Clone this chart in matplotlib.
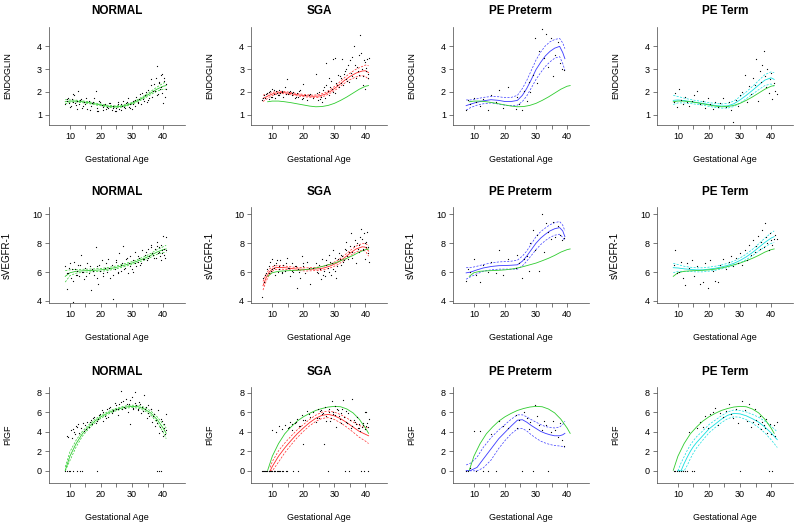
import numpy as np
import matplotlib.pyplot as plt

plt.rcParams['font.family'] = ['Liberation Sans', 'DejaVu Sans']

# ---- raw points (gestational age + the three analytes) ----
NORMAL_GA = [8.5, 9.0, 9.4, 9.8, 10.2, 10.6, 11.0, 11.3, 11.8, 12.2,
             12.6, 13.0, 13.5, 14.0, 14.4, 15.0, 15.6, 16.1, 16.7, 17.2,
             17.8, 18.3, 18.8, 19.2, 19.7, 20.2, 20.8, 21.3, 21.9, 22.4,
             23.0, 23.5, 24.0, 24.5, 25.0, 25.4, 25.9, 26.3, 26.8, 27.2,
             27.7, 28.1, 28.6, 29.0, 29.5, 29.9, 30.4, 30.9, 31.3, 31.8,
             32.3, 32.8, 33.2, 33.7, 34.2, 34.7, 35.1, 35.6, 36.0, 36.5,
             37.0, 37.4, 37.9, 38.3, 38.8, 39.2, 39.6, 40.0, 40.4, 40.8,
             9.2, 10.0, 10.9, 11.6, 12.4, 13.3, 14.2, 15.3, 16.4, 17.5,
             18.6, 19.5, 20.5, 21.6, 22.7, 23.8, 24.7, 25.6, 26.6, 27.5,
             28.4, 29.3, 30.2, 31.1, 32.0, 32.6, 33.5, 34.4, 35.3, 36.2,
             36.8, 37.6, 38.1, 38.6, 39.0, 39.4, 39.8, 40.2, 40.6, 41.0]
NORMAL_ENDO = [1.45, 1.62, 1.75, 1.50, 1.38, 1.68, 1.55, 1.85, 1.42, 1.60,
               2.05, 1.48, 1.70, 1.30, 1.58, 1.45, 1.25, 1.62, 1.38, 1.50,
               1.72, 2.05, 1.30, 1.15, 1.55, 1.42, 1.20, 1.48, 1.35, 1.28,
               1.52, 1.22, 1.40, 1.18, 1.30, 1.55, 1.25, 1.45, 1.38, 1.62,
               1.28, 1.50, 1.72, 1.35, 1.45, 1.25, 1.62, 1.40, 1.80, 1.55,
               1.70, 1.48, 1.95, 1.62, 1.85, 1.55, 2.10, 1.75, 2.55, 1.80,
               2.35, 2.05, 3.15, 1.90, 2.45, 2.20, 2.80, 1.50, 2.60, 2.15,
               1.70, 1.35, 1.90, 1.50, 1.25, 1.65, 1.40, 1.75, 1.20, 1.55,
               1.15, 1.60, 1.35, 1.25, 1.50, 1.30, 1.15, 1.45, 1.20, 1.35,
               1.55, 1.30, 1.45, 1.65, 1.50, 1.90, 1.70, 2.00, 1.65, 2.30,
               2.05, 2.60, 1.85, 2.40, 2.15, 2.75, 1.95, 2.50, 1.80, 2.35]
NORMAL_SVEGF = [6.40, 4.80, 5.90, 6.30, 5.60, 6.20, 3.95, 6.70, 5.80, 6.10,
                6.50, 5.70, 7.20, 6.00, 5.50, 6.30, 6.60, 5.90, 4.75, 6.20,
                5.80, 7.70, 6.40, 5.20, 6.10, 6.80, 5.70, 6.30, 6.00, 6.90,
                5.60, 6.50, 4.10, 6.20, 6.70, 5.90, 7.30, 6.10, 6.60, 7.80,
                6.30, 6.90, 5.90, 6.60, 7.10, 6.20, 6.80, 7.40, 6.40, 6.70,
                7.00, 6.60, 7.50, 6.90, 7.20, 6.80, 7.60, 7.10, 7.90, 7.30,
                7.00, 7.60, 8.10, 7.30, 7.70, 6.80, 7.50, 8.50, 7.20, 8.40,
                5.90, 6.60, 5.40, 6.20, 5.80, 6.50, 6.00, 5.70, 6.40, 6.10,
                5.60, 6.50, 5.90, 6.60, 6.30, 5.80, 6.80, 6.00, 6.50, 6.20,
                7.00, 6.40, 6.00, 6.60, 7.10, 6.50, 6.90, 7.40, 7.00, 7.70,
                7.20, 7.00, 7.80, 7.40, 7.10, 7.90, 7.30, 7.60, 7.00, 7.50]
NORMAL_PLGF = [0.0, 0.0, 3.50, 0.0, 4.20, 3.40, 0.0, 4.00, 4.60, 0.0,
               4.80, 3.90, 4.40, 0.0, 4.10, 4.70, 5.00, 4.50, 5.20, 4.80,
               5.50, 4.90, 0.0, 5.30, 5.80, 6.20, 5.10, 5.60, 6.30, 5.50,
               6.60, 5.90, 6.20, 7.00, 6.40, 5.70, 6.90, 8.20, 6.30, 7.20,
               6.50, 7.40, 6.00, 6.90, 4.80, 7.60, 6.40, 8.10, 6.80, 6.20,
               7.10, 5.90, 6.60, 7.80, 6.30, 5.40, 6.80, 5.60, 6.30, 5.00,
               5.80, 4.60, 0.0, 6.20, 3.90, 0.0, 5.10, 3.60, 4.40, 5.80,
               3.60, 0.0, 4.30, 3.80, 4.50, 0.0, 4.90, 4.30, 5.00, 5.40,
               5.10, 5.70, 6.00, 5.40, 6.50, 6.10, 6.80, 6.30, 7.10, 6.60,
               6.90, 7.30, 6.50, 7.00, 6.40, 6.90, 6.10, 6.60, 5.90, 6.40,
               5.60, 5.20, 4.90, 0.0, 4.50, 5.30, 4.10, 4.80, 3.80, 4.20]

SGA_GA = [6.6, 7.2, 7.8, 8.3, 8.8, 9.2, 9.6, 10.0, 10.4, 10.8,
          11.2, 11.7, 12.1, 12.6, 13.0, 13.5, 14.0, 14.6, 15.1, 15.7,
          16.2, 16.8, 17.3, 17.9, 18.4, 19.0, 19.5, 20.0, 20.6, 21.2,
          22.0, 23.1, 24.0, 24.6, 25.1, 25.6, 26.1, 26.5, 27.0, 27.4,
          27.9, 28.3, 28.8, 29.2, 29.7, 30.1, 30.6, 31.0, 31.5, 32.0,
          32.4, 32.9, 33.3, 33.8, 34.3, 34.8, 35.3, 35.8, 36.3, 36.8,
          37.3, 37.8, 38.2, 38.7, 39.1, 39.5, 39.9, 40.3, 40.7, 41.0,
          7.0, 8.0, 9.0, 9.8, 10.6, 11.4, 12.3, 13.2, 14.3, 15.4,
          16.5, 17.6, 18.7, 19.8, 21.8, 24.3, 25.3, 26.3, 27.2, 28.1,
          28.6, 29.5, 30.3, 30.8, 31.7, 32.2, 33.1, 33.6, 34.1, 35.0,
          35.6, 36.6, 37.5, 38.0, 38.9, 39.3, 39.7, 40.1, 40.5, 40.9]
SGA_ENDO = [1.65, 1.85, 1.75, 1.95, 1.70, 2.05, 1.80, 2.15, 1.90, 1.75,
            2.05, 1.85, 2.10, 1.95, 2.00, 1.80, 2.20, 2.55, 1.90, 2.05,
            1.85, 2.00, 1.75, 1.95, 1.80, 2.10, 1.70, 2.35, 1.85, 1.65,
            1.90, 1.75, 2.80, 1.65, 2.00, 1.80, 1.55, 2.20, 1.75, 3.25,
            2.05, 1.85, 2.50, 2.15, 3.45, 1.95, 2.40, 2.75, 2.20, 2.60,
            3.45, 2.30, 2.90, 2.55, 3.20, 2.45, 2.85, 3.55, 4.00, 2.60,
            3.10, 2.75, 4.50, 3.70, 2.30, 3.40, 2.15, 3.05, 2.60, 3.50,
            1.75, 1.90, 2.00, 1.80, 2.10, 1.95, 1.85, 2.05, 1.90, 2.00,
            1.95, 1.80, 2.05, 1.75, 1.85, 1.95, 1.70, 2.10, 2.30, 2.60,
            2.20, 2.00, 3.50, 2.30, 2.70, 2.40, 2.80, 3.00, 2.50, 3.40,
            2.70, 3.20, 2.90, 3.60, 3.00, 2.70, 3.30, 2.90, 3.45, 2.80]
SGA_SVEGF = [4.30, 5.30, 5.80, 6.20, 5.90, 6.70, 6.10, 6.90, 6.30, 5.80,
             6.60, 6.00, 6.40, 6.80, 5.90, 6.50, 6.10, 7.00, 6.30, 5.70,
             6.60, 6.00, 6.40, 4.90, 6.20, 5.60, 7.10, 6.40, 5.90, 6.70,
             5.20, 6.30, 6.60, 5.90, 6.50, 5.50, 6.90, 6.10, 5.70, 6.80,
             6.30, 7.20, 5.80, 6.60, 7.50, 6.10, 5.60, 6.90, 7.30, 6.50,
             7.10, 6.70, 7.60, 8.10, 6.90, 7.40, 8.70, 7.00, 7.80, 6.60,
             8.00, 7.40, 8.40, 9.00, 7.60, 8.70, 6.90, 8.10, 7.70, 6.70,
             5.60, 5.90, 6.40, 6.20, 6.50, 6.80, 6.20, 6.00, 6.60, 6.30,
             6.10, 6.40, 6.00, 6.60, 6.30, 6.00, 6.20, 5.80, 6.50, 6.00,
             6.70, 6.20, 7.00, 6.40, 6.90, 7.20, 6.80, 7.50, 7.10, 7.80,
             7.40, 8.20, 7.60, 7.90, 8.30, 7.50, 8.00, 7.70, 8.80, 7.30]
SGA_PLGF = [0.0, 0.0, 0.0, 0.0, 0.0, 0.0, 0.0, 4.20, 0.0, 0.0,
            4.00, 0.0, 4.60, 0.0, 4.30, 0.0, 4.70, 0.0, 4.40, 5.00,
            4.20, 0.0, 4.90, 5.30, 0.0, 4.60, 5.70, 2.80, 5.20, 6.10,
            5.50, 6.00, 5.00, 6.40, 5.40, 6.20, 5.80, 2.80, 6.60, 5.10,
            0.0, 6.00, 5.40, 7.20, 5.80, 6.70, 4.50, 6.20, 5.60, 4.90,
            6.30, 7.30, 0.0, 5.00, 5.90, 0.0, 4.40, 7.40, 5.20, 4.80,
            5.50, 4.40, 4.10, 0.0, 4.90, 0.0, 6.00, 4.60, 0.0, 5.30,
            0.0, 0.0, 0.0, 0.0, 0.0, 0.0, 0.0, 0.0, 0.0, 4.50,
            4.80, 5.00, 4.60, 5.20, 5.80, 5.40, 6.10, 5.90, 5.60, 6.30,
            5.10, 6.00, 5.70, 6.40, 5.30, 5.90, 5.50, 6.10, 4.90, 5.20,
            4.60, 5.00, 4.40, 4.80, 4.50, 4.70, 4.30, 6.00, 4.90, 4.50]

PEP_GA = [7.5, 8.0, 8.6, 10.0, 10.8, 12.0, 13.0, 14.5, 15.5, 17.0,
          18.0, 19.5, 21.0, 23.5, 24.0, 24.5, 25.5, 26.2, 27.0, 27.6,
          28.2, 29.0, 29.6, 30.3, 31.0, 31.8, 32.5, 33.3, 34.0, 34.7,
          35.5, 36.2, 37.0, 37.8, 38.5, 39.1]
PEP_ENDO = [1.20, 1.65, 1.45, 1.75, 1.55, 1.40, 1.70, 1.20, 1.85, 1.55,
            2.10, 1.30, 2.20, 1.25, 1.80, 1.45, 1.20, 2.05, 1.60, 2.45,
            2.00, 2.75, 4.35, 2.40, 3.80, 4.75, 3.50, 4.55, 3.10, 4.35,
            2.70, 3.60, 4.20, 3.25, 3.00, 2.95]
PEP_SVEGF = [5.40, 6.20, 6.00, 6.90, 5.80, 5.30, 6.50, 6.00, 6.70, 5.90,
             7.50, 5.80, 6.90, 6.30, 7.20, 6.60, 5.60, 6.90, 7.10, 6.10,
             8.00, 8.90, 7.50, 8.60, 6.10, 10.05, 7.40, 9.40, 8.80, 8.30,
             9.50, 8.40, 9.20, 8.60, 8.20, 8.35]
PEP_PLGF = [0.0, 0.0, 0.30, 4.10, 0.0, 4.10, 0.0, 0.0, 3.80, 0.0,
            5.10, 4.60, 4.40, 5.75, 4.40, 5.20, 0.0, 6.00, 5.40, 4.30,
            5.00, 0.0, 6.80, 5.60, 4.70, 4.20, 5.10, 4.70, 0.0, 4.00,
            5.10, 4.20, 3.50, 4.90, 3.20, 2.60]

PET_GA = [8.6, 9.2, 9.8, 10.3, 10.9, 11.5, 12.2, 12.9, 13.6, 14.4,
          15.3, 16.2, 17.1, 18.0, 18.8, 19.6, 20.4, 21.2, 22.0, 22.8,
          23.6, 24.5, 25.4, 26.3, 27.1, 27.9, 28.7, 29.4, 30.1, 30.8,
          31.5, 32.2, 32.9, 33.5, 34.1, 34.7, 35.3, 35.8, 36.3, 36.8,
          37.2, 37.6, 38.0, 38.4, 38.8, 39.2, 39.6, 40.0, 40.4, 40.8,
          41.3, 41.8]
PET_ENDO = [1.55, 1.95, 1.35, 2.15, 1.65, 1.45, 1.80, 1.55, 1.40, 1.60,
            1.85, 2.05, 1.45, 1.60, 1.30, 1.75, 1.45, 1.25, 1.55, 1.35,
            1.50, 1.75, 1.35, 1.55, 1.20, 0.70, 1.65, 1.40, 1.85, 2.00,
            2.75, 1.55, 2.25, 1.90, 2.60, 2.30, 3.45, 1.60, 2.90, 2.45,
            3.20, 3.80, 2.70, 2.20, 3.00, 1.95, 2.55, 2.85, 1.70, 2.40,
            2.05, 1.90]
PET_SVEGF = [6.50, 7.50, 5.90, 6.00, 6.70, 5.60, 5.10, 6.60, 6.30, 6.80,
             5.70, 6.40, 5.20, 5.30, 6.60, 4.90, 6.80, 6.10, 5.40, 5.30,
             6.50, 6.90, 6.20, 6.70, 7.10, 6.40, 7.00, 6.60, 7.30, 6.50,
             7.50, 6.80, 7.90, 7.20, 8.20, 7.40, 7.80, 8.50, 7.60, 8.10,
             8.90, 7.70, 9.40, 8.40, 8.00, 7.50, 8.70, 8.20, 7.90, 8.30,
             8.60, 8.30]
PET_PLGF = [0.0, 0.0, 0.0, 0.0, 0.0, 0.0, 0.0, 0.0, 4.00, 0.0,
            0.0, 4.40, 5.00, 4.50, 5.60, 4.40, 5.80, 6.00, 6.50, 4.70,
            5.90, 5.50, 6.10, 6.90, 5.80, 5.40, 6.30, 4.90, 0.0, 7.20,
            6.20, 5.10, 6.90, 4.50, 5.00, 6.40, 5.20, 4.80, 5.60, 4.30,
            5.00, 4.70, 4.40, 5.30, 3.90, 0.0, 4.80, 3.80, 0.0, 4.70,
            3.60, 5.00]

# ---- fitted curves (mean, lower, upper) ----
NORM_X = [8.5, 10, 12, 14, 16, 18, 20, 22, 24, 26, 28, 30, 32, 34, 36, 38, 40, 41]
NORM_ENDO_MID = [1.57, 1.60, 1.60, 1.57, 1.53, 1.48, 1.43, 1.38, 1.35, 1.36, 1.41, 1.50, 1.63, 1.78, 1.95, 2.12, 2.25, 2.28]
NORM_ENDO_LO = [1.48, 1.55, 1.56, 1.53, 1.49, 1.44, 1.39, 1.34, 1.31, 1.32, 1.37, 1.46, 1.58, 1.72, 1.88, 2.03, 2.12, 2.12]
NORM_ENDO_HI = [1.66, 1.65, 1.64, 1.61, 1.57, 1.52, 1.47, 1.42, 1.39, 1.40, 1.45, 1.54, 1.68, 1.84, 2.02, 2.21, 2.38, 2.44]
NORM_SVEGF_MID = [5.70, 5.95, 6.05, 6.08, 6.10, 6.12, 6.15, 6.20, 6.28, 6.38, 6.50, 6.62, 6.78, 6.95, 7.15, 7.38, 7.55, 7.60]
NORM_SVEGF_LO = [5.30, 5.75, 5.92, 5.97, 6.00, 6.02, 6.05, 6.10, 6.18, 6.28, 6.40, 6.52, 6.67, 6.83, 7.02, 7.22, 7.35, 7.35]
NORM_SVEGF_HI = [6.10, 6.15, 6.18, 6.19, 6.20, 6.22, 6.25, 6.30, 6.38, 6.48, 6.60, 6.72, 6.89, 7.07, 7.28, 7.54, 7.75, 7.85]
NORM_PLGF_MID = [0.05, 1.50, 2.80, 3.80, 4.50, 5.10, 5.55, 5.90, 6.20, 6.40, 6.55, 6.62, 6.58, 6.35, 5.95, 5.30, 4.40, 3.85]
NORM_PLGF_LO = [0.00, 1.05, 2.45, 3.55, 4.30, 4.92, 5.40, 5.76, 6.07, 6.28, 6.43, 6.50, 6.44, 6.18, 5.74, 5.02, 4.00, 3.30]
NORM_PLGF_HI = [0.40, 1.95, 3.15, 4.05, 4.70, 5.28, 5.70, 6.04, 6.33, 6.52, 6.67, 6.74, 6.72, 6.52, 6.16, 5.58, 4.80, 4.40]

SGA_X = [7, 8, 9, 10, 11, 13, 15, 17, 19, 21, 23, 25, 27, 29, 31, 33, 35, 37, 39, 40, 41]
SGA_ENDO_MID = [1.72, 1.78, 1.85, 1.91, 1.95, 1.98, 1.95, 1.90, 1.86, 1.83, 1.81, 1.82, 1.90, 2.05, 2.25, 2.48, 2.68, 2.83, 2.92, 2.93, 2.85]
SGA_ENDO_LO = [1.58, 1.67, 1.77, 1.84, 1.89, 1.93, 1.90, 1.85, 1.81, 1.78, 1.76, 1.76, 1.83, 1.97, 2.15, 2.36, 2.54, 2.66, 2.72, 2.68, 2.55]
SGA_ENDO_HI = [1.86, 1.89, 1.93, 1.98, 2.01, 2.03, 2.00, 1.95, 1.91, 1.88, 1.86, 1.88, 1.97, 2.13, 2.35, 2.60, 2.82, 3.00, 3.12, 3.18, 3.15]
SGA_SVEGF_MID = [5.05, 5.60, 6.00, 6.20, 6.30, 6.32, 6.28, 6.22, 6.20, 6.18, 6.20, 6.22, 6.30, 6.45, 6.65, 6.95, 7.30, 7.60, 7.75, 7.72, 7.45]
SGA_SVEGF_LO = [4.75, 5.35, 5.80, 6.05, 6.17, 6.20, 6.17, 6.11, 6.09, 6.07, 6.09, 6.10, 6.17, 6.31, 6.50, 6.78, 7.12, 7.40, 7.52, 7.45, 7.10]
SGA_SVEGF_HI = [5.35, 5.85, 6.20, 6.35, 6.43, 6.44, 6.39, 6.33, 6.31, 6.29, 6.31, 6.34, 6.43, 6.59, 6.80, 7.12, 7.48, 7.80, 7.98, 7.99, 7.80]
SGA_PX = [9.3, 10, 12, 14, 16, 18, 20, 22, 24, 26, 28, 30, 32, 34, 36, 38, 40, 41]
SGA_PLGF_MID = [0.00, 0.45, 1.50, 2.35, 3.10, 3.80, 4.40, 4.95, 5.40, 5.70, 5.80, 5.65, 5.35, 4.95, 4.50, 4.05, 3.75, 3.60]
SGA_PLGF_LO = [0.00, 0.00, 0.90, 1.85, 2.65, 3.40, 4.05, 4.62, 5.08, 5.38, 5.46, 5.27, 4.93, 4.48, 3.98, 3.45, 3.05, 2.80]
SGA_PLGF_HI = [0.35, 0.95, 2.05, 2.85, 3.55, 4.20, 4.75, 5.28, 5.72, 6.02, 6.14, 6.03, 5.77, 5.42, 5.02, 4.65, 4.45, 4.40]

PEP_X = [7.5, 9, 11, 13, 15.5, 18, 20, 22, 24, 25.6, 27, 28.5, 30, 31.5, 33, 34.5, 36, 37.6, 38.6, 39.3]
PEP_ENDO_MID = [1.40, 1.47, 1.55, 1.61, 1.66, 1.63, 1.58, 1.58, 1.63, 1.85, 2.15, 2.55, 2.98, 3.30, 3.58, 3.78, 3.92, 4.00, 3.73, 3.46]
PEP_ENDO_LO = [1.20, 1.32, 1.42, 1.48, 1.52, 1.47, 1.42, 1.40, 1.42, 1.58, 1.82, 2.18, 2.55, 2.85, 3.12, 3.32, 3.48, 3.55, 3.25, 2.95]
PEP_ENDO_HI = [1.65, 1.65, 1.70, 1.76, 1.80, 1.79, 1.75, 1.76, 1.85, 2.15, 2.50, 2.95, 3.40, 3.75, 4.02, 4.20, 4.30, 4.35, 4.15, 3.90]
PEP_SVEGF_MID = [5.94, 6.00, 6.15, 6.28, 6.38, 6.44, 6.45, 6.47, 6.50, 6.75, 7.10, 7.55, 8.00, 8.35, 8.62, 8.85, 9.00, 9.08, 8.85, 8.45]
PEP_SVEGF_LO = [5.50, 5.68, 5.88, 6.05, 6.15, 6.20, 6.20, 6.20, 6.20, 6.42, 6.75, 7.15, 7.55, 7.90, 8.18, 8.40, 8.55, 8.62, 8.40, 8.15]
PEP_SVEGF_HI = [6.30, 6.30, 6.40, 6.52, 6.62, 6.70, 6.72, 6.75, 6.82, 7.10, 7.45, 7.95, 8.45, 8.80, 9.05, 9.28, 9.42, 9.50, 9.25, 8.85]
PEP_PLGF_MID = [0.00, 0.05, 0.35, 1.20, 2.25, 3.30, 3.95, 4.60, 5.20, 5.25, 5.00, 4.65, 4.35, 4.05, 3.85, 3.70, 3.60, 3.60, 3.70, 3.85]
PEP_PLGF_LO = [0.00, 0.00, 0.00, 0.30, 1.10, 2.30, 3.10, 3.80, 4.30, 4.35, 4.10, 3.70, 3.35, 3.05, 2.85, 2.70, 2.60, 2.55, 2.50, 2.40]
PEP_PLGF_HI = [0.60, 0.80, 1.40, 2.40, 3.40, 4.20, 4.75, 5.30, 5.75, 5.75, 5.55, 5.25, 5.00, 4.75, 4.55, 4.45, 4.40, 4.50, 4.75, 5.10]

PET_X = [8.5, 10, 12, 14, 16, 18, 20, 22, 24, 26, 28, 30, 32, 34, 36, 38, 40, 41]
PET_ENDO_MID = [1.63, 1.65, 1.62, 1.58, 1.54, 1.50, 1.45, 1.41, 1.38, 1.39, 1.48, 1.65, 1.85, 2.07, 2.30, 2.52, 2.62, 2.55]
PET_ENDO_LO = [1.45, 1.52, 1.52, 1.49, 1.46, 1.42, 1.37, 1.32, 1.29, 1.29, 1.36, 1.51, 1.70, 1.90, 2.10, 2.28, 2.35, 2.25]
PET_ENDO_HI = [1.85, 1.80, 1.73, 1.67, 1.62, 1.58, 1.53, 1.50, 1.47, 1.50, 1.60, 1.79, 2.00, 2.24, 2.50, 2.76, 2.88, 2.85]
PET_SVEGF_MID = [6.30, 6.28, 6.22, 6.18, 6.15, 6.15, 6.20, 6.26, 6.35, 6.46, 6.60, 6.80, 7.05, 7.35, 7.70, 8.05, 8.35, 8.45]
PET_SVEGF_LO = [5.95, 6.05, 6.05, 6.03, 6.01, 6.01, 6.06, 6.12, 6.21, 6.32, 6.45, 6.63, 6.86, 7.13, 7.45, 7.75, 7.98, 8.05]
PET_SVEGF_HI = [6.60, 6.52, 6.40, 6.33, 6.29, 6.29, 6.34, 6.40, 6.49, 6.60, 6.75, 6.97, 7.24, 7.57, 7.95, 8.35, 8.70, 8.85]
PET_PX = [10, 11, 12, 13, 14, 15, 16, 18, 20, 22, 24, 26, 28, 30, 32, 34, 36, 38, 40, 42]
PET_PLGF_MID = [0.00, 0.00, 0.75, 1.40, 2.00, 2.50, 2.90, 3.60, 4.30, 4.80, 5.30, 5.70, 5.90, 5.85, 5.65, 5.35, 5.00, 4.50, 3.90, 3.20]
PET_PLGF_LO = [0.00, 0.00, 0.00, 0.55, 1.25, 1.85, 2.35, 3.15, 3.90, 4.45, 4.95, 5.35, 5.55, 5.50, 5.25, 4.90, 4.45, 3.90, 3.20, 2.40]
PET_PLGF_HI = [0.00, 0.80, 1.45, 2.10, 2.65, 3.10, 3.50, 4.10, 4.75, 5.20, 5.65, 6.05, 6.25, 6.20, 6.05, 5.80, 5.50, 5.10, 4.60, 4.00]

groups = ['NORMAL', 'SGA', 'PE Preterm', 'PE Term']
group_color = ['#2ecc2e', '#ff2a2a', '#3a3aff', '#14e0e0']
analytes = ['ENDOGLIN', 'sVEGFR-1', 'PlGF']

points = {
    'NORMAL': (NORMAL_GA, [NORMAL_ENDO, NORMAL_SVEGF, NORMAL_PLGF]),
    'SGA': (SGA_GA, [SGA_ENDO, SGA_SVEGF, SGA_PLGF]),
    'PE Preterm': (PEP_GA, [PEP_ENDO, PEP_SVEGF, PEP_PLGF]),
    'PE Term': (PET_GA, [PET_ENDO, PET_SVEGF, PET_PLGF]),
}
curves = {
    'NORMAL': [(NORM_X, NORM_ENDO_MID, NORM_ENDO_LO, NORM_ENDO_HI),
               (NORM_X, NORM_SVEGF_MID, NORM_SVEGF_LO, NORM_SVEGF_HI),
               (NORM_X, NORM_PLGF_MID, NORM_PLGF_LO, NORM_PLGF_HI)],
    'SGA': [(SGA_X, SGA_ENDO_MID, SGA_ENDO_LO, SGA_ENDO_HI),
            (SGA_X, SGA_SVEGF_MID, SGA_SVEGF_LO, SGA_SVEGF_HI),
            (SGA_PX, SGA_PLGF_MID, SGA_PLGF_LO, SGA_PLGF_HI)],
    'PE Preterm': [(PEP_X, PEP_ENDO_MID, PEP_ENDO_LO, PEP_ENDO_HI),
                   (PEP_X, PEP_SVEGF_MID, PEP_SVEGF_LO, PEP_SVEGF_HI),
                   (PEP_X, PEP_PLGF_MID, PEP_PLGF_LO, PEP_PLGF_HI)],
    'PE Term': [(PET_X, PET_ENDO_MID, PET_ENDO_LO, PET_ENDO_HI),
                (PET_X, PET_SVEGF_MID, PET_SVEGF_LO, PET_SVEGF_HI),
                (PET_PX, PET_PLGF_MID, PET_PLGF_LO, PET_PLGF_HI)],
}

ylims = [(0.55, 4.85), (3.85, 10.5), (-1.25, 8.6)]
yticks = [[1, 2, 3, 4], [4, 6, 8, 10], [0, 2, 4, 6, 8]]
ylab_size = [6.5, 7, 6.5]

row_bottom = [0.7628, 0.425, 0.0835]
row_height = [0.186, 0.182, 0.182]
col_left = [0.061, 0.314, 0.566, 0.821]

fig = plt.figure(figsize=(8, 5.27), dpi=100)

for r, analyte in enumerate(analytes):
    for c, grp in enumerate(groups):
        ax = fig.add_axes([col_left[c], row_bottom[r], 0.17, row_height[r]])
        ga, vals = points[grp]
        ax.scatter(ga, vals[r], s=0.8, color='black', linewidths=0, zorder=3)

        x, mid, lo, hi = curves[grp][r]
        col = group_color[c]
        ax.plot(x, mid, color=col, lw=0.6)
        ax.plot(x, lo, color=col, lw=0.5, ls=(0, (3, 2)))
        ax.plot(x, hi, color=col, lw=0.5, ls=(0, (3, 2)))
        if grp != 'NORMAL':
            nx, nmid, _, _ = curves['NORMAL'][r]
            ax.plot(nx, nmid, color=group_color[0], lw=0.6)

        ax.set_xlim(3.2, 47)
        ax.set_ylim(*ylims[r])
        ax.set_xticks([10, 15, 20, 25, 30, 35, 40])
        ax.set_xticklabels(['10', '', '20', '', '30', '', '40'])
        ax.set_yticks(yticks[r])
        ax.tick_params(direction='out', length=3, width=0.5, labelsize=6.5,
                       pad=2, color='#444444')
        for side in ['top', 'right']:
            ax.spines[side].set_visible(False)
        for side in ['left', 'bottom']:
            ax.spines[side].set_linewidth(0.5)
            ax.spines[side].set_color('#444444')

        ax.set_title(grp, fontsize=8.5, fontweight='bold', pad=9)
        ax.set_xlabel('Gestational Age', fontsize=6.5)
        ax.xaxis.set_label_coords(0.5, -0.31)
        ax.set_ylabel(analyte, fontsize=ylab_size[r])
        ax.yaxis.set_label_coords(-0.27, 0.5)

fig.savefig('out.png', dpi=100)
